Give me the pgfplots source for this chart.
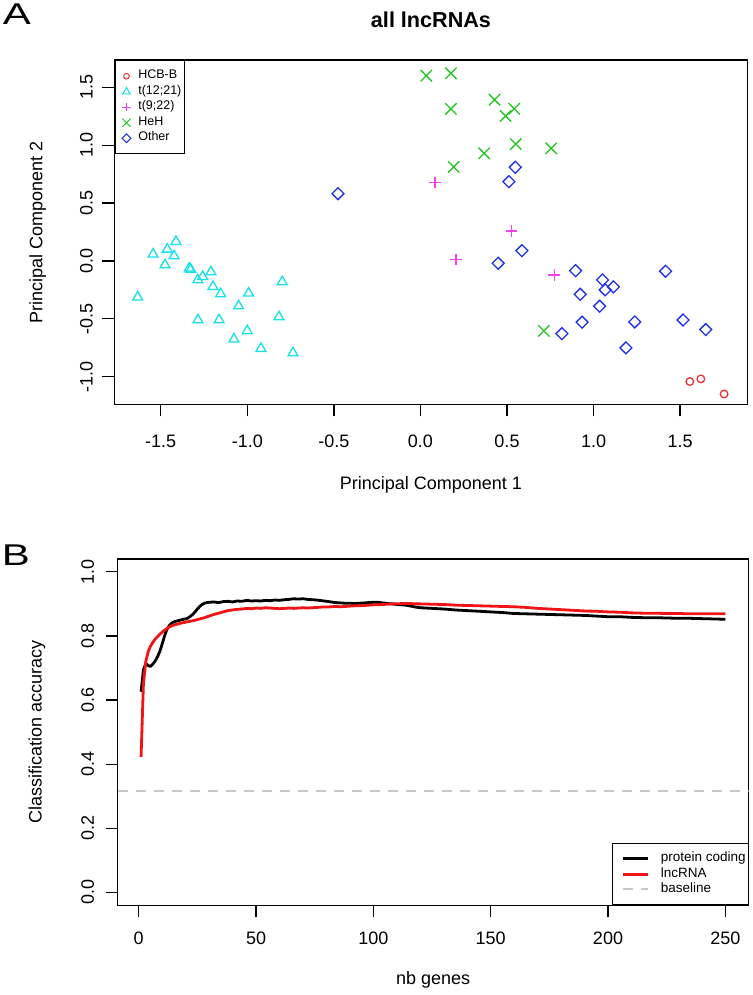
\documentclass[border=0pt]{standalone}
\usepackage{fontspec}
\setmainfont{Liberation Sans}
\usepackage{graphicx}
\usepackage{pgfplots}
\pgfplotsset{compat=1.18}
\definecolor{pred}{RGB}{235,50,50}
\definecolor{pcyan}{RGB}{20,225,232}
\definecolor{pmag}{RGB}{240,64,240}
\definecolor{pgreen}{RGB}{34,196,34}
\definecolor{pblue}{RGB}{32,48,232}
\definecolor{lred}{RGB}{240,20,20}
\definecolor{lgray}{RGB}{200,200,200}
\pgfplotsset{
  rstyle/.style={
    scale only axis,
    axis line style={line width=1.3pt},
    every tick/.style={line width=1.3pt, black},
    major tick length=12pt,
    tick align=outside,
    xtick pos=left, ytick pos=left,
    tick label style={font=\fontsize{18}{21.6}\selectfont},
    label style={font=\fontsize{18}{21.6}\selectfont},
    xticklabel style={anchor=center, inner sep=0pt},
    yticklabel style={rotate=90, anchor=center, inner sep=0pt},
  }
}
\pgfplotstableread{
x y
0.084 0.679
0.526 0.259
0.205 0.014
0.773 -0.121
}\tplus
\begin{document}
\begin{tikzpicture}
\useasboundingbox (0pt,0pt) rectangle (752pt,995pt);
\node[font=\fontsize{30}{30}\selectfont, inner sep=0pt] at (17pt,981pt) {\scalebox{1.4}[1]{A}};
\node[font=\fontsize{30}{30}\selectfont, inner sep=0pt] at (16pt,440pt) {\scalebox{1.4}[1]{B}};
\node[font=\bfseries\fontsize{21.6}{24}\selectfont, inner sep=0pt] at (431pt,975pt) {all lncRNAs};

% ---------------- Panel A ----------------
\begin{axis}[rstyle,
  at={(114.5pt,590.5pt)}, anchor=south west,
  width=632.8pt, height=344.5pt,
  xmin=-1.767, xmax=1.888, ymin=-1.24, ymax=1.736,
  xtick={-1.5,-1,-0.5,0,0.5,1,1.5},
  xticklabels={-1.5,-1.0,-0.5,0.0,0.5,1.0,1.5},
  ytick={-1,-0.5,0,0.5,1,1.5},
  yticklabels={-1.0,-0.5,0.0,0.5,1.0,1.5},
  xticklabel shift=25pt, yticklabel shift=16pt,
  xlabel={Principal Component 1}, ylabel={Principal Component 2},
  xlabel style={at={(axis description cs:0.5,-0.2337)}, anchor=center},
  ylabel style={at={(axis description cs:-0.1214,0.5)}, anchor=center},
  legend style={at={(0,1)}, anchor=north west, draw=black, line width=1pt,
    font=\fontsize{12.5}{15}\selectfont, inner xsep=3pt, inner ysep=8pt,
    row sep=0pt, column sep=5.5pt, fill=white,
    nodes={inner xsep=0pt, inner ysep=1.5pt, text height=9pt, text depth=3.5pt}},
  legend cell align=left,
  legend image code/.code={\path[draw=none] (-8.5pt,0pt) -- (6.3pt,0pt);
     \draw[#1] plot coordinates {(0pt,0pt)};},
]
\addplot[forget plot, only marks, mark=o, draw=pred, mark size=3.8pt, line width=1.3pt] coordinates {
(1.556,-1.042) (1.620,-1.019) (1.754,-1.149)};
\addplot[forget plot, only marks, mark=triangle, draw=pcyan, mark size=5.7pt, line width=1.3pt] coordinates {
(-1.633,-0.313) (-1.544,0.058) (-1.462,0.101) (-1.412,0.167) (-1.423,0.043)
(-1.475,-0.035) (-1.335,-0.063) (-1.327,-0.072) (-1.210,-0.095) (-1.258,-0.135)
(-1.286,-0.164) (-1.198,-0.222) (-1.154,-0.285) (-0.992,-0.279) (-0.798,-0.181)
(-1.050,-0.389) (-1.285,-0.510) (-1.163,-0.510) (-0.817,-0.484) (-1.000,-0.605)
(-1.077,-0.676) (-0.921,-0.757) (-0.736,-0.795)};
\addplot[forget plot, only marks, mark=x, draw=pgreen, mark size=8pt, line width=1.3pt] coordinates {
(0.034,1.600) (0.176,1.621) (0.176,1.313) (0.428,1.393) (0.542,1.315)
(0.492,1.252) (0.551,1.010) (0.755,0.973) (0.368,0.930) (0.192,0.812)
(0.713,-0.604)};
\addplot[forget plot, only marks, mark=square, mark options={rotate=45}, draw=pblue, mark size=4.2pt, line width=1.3pt] coordinates {
(-0.476,0.581) (0.548,0.809) (0.511,0.685) (0.586,0.089) (0.449,-0.020)
(0.896,-0.084) (1.416,-0.089) (1.052,-0.164) (1.115,-0.224) (1.067,-0.250)
(0.923,-0.288) (1.035,-0.391) (0.934,-0.529) (1.238,-0.527) (1.517,-0.510)
(1.648,-0.593) (0.817,-0.628) (1.187,-0.751)};
\addplot[forget plot, only marks, mark=+, draw=pmag, fill=pmag, mark options={draw=pmag, line width=1.3pt}, mark size=5.8pt, line width=1.3pt] table[x=x, y=y] {\tplus};
\addlegendimage{only marks, mark=o, draw=pred, mark size=2.8pt, line width=1pt}
\addlegendentry{HCB-B}
\addlegendimage{only marks, mark=triangle, draw=pcyan, mark size=4.2pt, line width=1pt}
\addlegendentry{t(12;21)}
\addlegendimage{only marks, mark=+, draw=pmag, mark size=4.2pt, line width=1pt}
\addlegendentry{t(9;22)}
\addlegendimage{only marks, mark=x, draw=pgreen, mark size=5.8pt, line width=1pt}
\addlegendentry{HeH}
\addlegendimage{only marks, mark=square, mark options={rotate=45}, draw=pblue, mark size=3.1pt, line width=1pt}
\addlegendentry{Other}
\end{axis}

% ---------------- Panel B ----------------
\begin{axis}[rstyle,
  at={(117.7pt,89.7pt)}, anchor=south west,
  width=631pt, height=346.3pt,
  xmin=-8.96, xmax=259.96, ymin=-0.04, ymax=1.04,
  xtick={0,50,100,150,200,250},
  xticklabels={0,50,100,150,200,250},
  ytick={0,0.2,0.4,0.6,0.8,1},
  yticklabels={0.0,0.2,0.4,0.6,0.8,1.0},
  xticklabel shift=21pt, yticklabel shift=18pt,
  xlabel={nb genes}, ylabel={Classification accuracy},
  xlabel style={at={(axis description cs:0.5,-0.2157)}, anchor=center},
  ylabel style={at={(axis description cs:-0.128,0.5)}, anchor=center},
  legend style={at={(1,0)}, anchor=south east, draw=black, line width=1pt,
    font=\fontsize{13.5}{15}\selectfont, inner xsep=2.5pt, inner ysep=7.7pt,
    row sep=0pt, column sep=11.3pt, fill=white,
    nodes={inner xsep=0pt, inner ysep=0.75pt, text height=10pt, text depth=3.8pt}},
  legend cell align=left,
  legend image code/.code={\path[draw=none] (-7.8pt,0pt) -- (0pt,0pt);
     \draw[#1] (0pt,0pt) -- (25pt,0pt);},
]
\addplot[black, line width=2.8pt, line join=round] coordinates {
(1,0.626) (2,0.694) (3,0.714) (4,0.708) (5,0.705) (6,0.712) (7,0.722) (8,0.735)
(9,0.752) (10,0.775) (11,0.800) (12,0.820) (13,0.832) (14,0.840) (15,0.844)
(16,0.846) (17,0.848) (18,0.850) (19,0.852) (20,0.853) (21,0.856) (22,0.861)
(23,0.867) (24,0.875) (25,0.884) (26,0.892) (27,0.898) (28,0.902) (29,0.904)
(30,0.905) (32,0.906) (34,0.904) (36,0.907) (38,0.908) (40,0.906) (42,0.909)
(44,0.908) (46,0.911) (48,0.909) (50,0.910) (52,0.909) (54,0.911) (56,0.910)
(58,0.912) (60,0.911) (62,0.913) (64,0.914) (66,0.916) (68,0.915) (70,0.916)
(72,0.914) (74,0.913) (76,0.912) (78,0.910) (80,0.908) (82,0.906) (84,0.904)
(86,0.903) (88,0.902) (90,0.902) (92,0.901) (94,0.902) (96,0.903) (98,0.904)
(100,0.905) (102,0.905) (104,0.903) (106,0.901) (108,0.900) (110,0.898)
(112,0.897) (114,0.896) (116,0.893) (118,0.890) (120,0.888) (125,0.886)
(130,0.884) (135,0.881) (140,0.879) (145,0.877) (150,0.875) (155,0.873)
(160,0.870) (165,0.869) (170,0.868) (175,0.867) (180,0.866) (185,0.865)
(190,0.864) (195,0.862) (200,0.860) (205,0.860) (210,0.858) (215,0.857)
(220,0.857) (225,0.856) (230,0.855) (235,0.855) (240,0.854) (245,0.853)
(250,0.852)};
\addlegendentry{protein coding}
\addplot[lred, line width=2.8pt, line join=round] coordinates {
(1,0.423) (2,0.650) (3,0.720) (4,0.750) (5,0.768) (6,0.780) (7,0.790) (8,0.798)
(9,0.805) (10,0.812) (11,0.818) (12,0.823) (13,0.828) (14,0.831) (15,0.834)
(16,0.836) (17,0.838) (18,0.840) (20,0.843) (22,0.846) (24,0.849) (26,0.853)
(28,0.857) (30,0.862) (32,0.867) (34,0.871) (36,0.875) (38,0.879) (40,0.881)
(42,0.883) (44,0.884) (46,0.886) (48,0.885) (50,0.887) (52,0.886) (54,0.888)
(56,0.887) (58,0.886) (60,0.885) (62,0.886) (64,0.887) (66,0.886) (68,0.887)
(70,0.888) (72,0.887) (74,0.888) (76,0.889) (78,0.890) (80,0.890) (82,0.891)
(84,0.892) (86,0.891) (88,0.892) (90,0.893) (92,0.894) (94,0.894) (96,0.895)
(98,0.896) (100,0.897) (102,0.897) (104,0.898) (106,0.899) (108,0.900)
(110,0.900) (112,0.901) (114,0.901) (116,0.901) (118,0.900) (120,0.900)
(125,0.899) (130,0.898) (135,0.896) (140,0.895) (145,0.894) (150,0.893)
(155,0.892) (160,0.891) (165,0.889) (170,0.886) (175,0.884) (180,0.882)
(185,0.880) (190,0.878) (195,0.877) (200,0.875) (205,0.874) (210,0.872)
(215,0.871) (220,0.871) (225,0.870) (230,0.870) (235,0.869) (240,0.869)
(245,0.869) (250,0.869)};
\addlegendentry{lncRNA}
\addplot[lgray, line width=2pt, dash pattern=on 10pt off 8pt] coordinates {
(-8.96,0.316) (259.96,0.316)};
\addlegendentry{baseline}
\end{axis}
\end{tikzpicture}
\end{document}
